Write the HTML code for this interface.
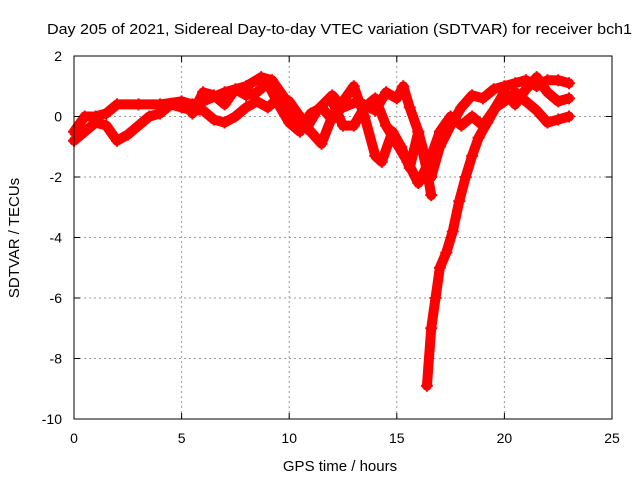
<!DOCTYPE html>
<html><head><meta charset="utf-8"><style>
body{margin:0;background:#fff}
svg{display:block;font-family:"Liberation Sans",sans-serif;font-size:14px}
</style></head><body>
<svg id="c" width="640" height="480">
<text x="47" y="34" textLength="585" lengthAdjust="spacingAndGlyphs" style="font-size:15px">Day 205 of 2021, Sidereal Day-to-day VTEC variation (SDTVAR) for receiver bch1</text>
<text x="340" y="471" text-anchor="middle" style="font-size:15px">GPS time / hours</text>
<text transform="translate(19,238) rotate(-90)" text-anchor="middle" style="font-size:15px">SDTVAR / TECUs</text>
<g id="grid"></g><g id="series"></g><g id="ticks"></g>
<rect x="74" y="56" width="538" height="363" fill="none" stroke="#000"/>
</svg>
<script>
const xTicks=[0,5,10,15,20,25];
const yTicks=[2,0,-2,-4,-6,-8,-10];
const track1=[[0,-0.5],[0.5,0],[1,0],[1.5,0.1],[2,0.4],[3,0.4],[4,0.4],[5,0.5],[5.5,0.4],[6,0.5],[7,0.8],[8,1.0],[8.7,1.3],[9.2,1.2],[9.8,0.6],[10.3,0.0],[10.8,-0.4],[11.3,0.2],[12,0.7],[12.5,0.3],[13.2,0.5],[14,0.2],[14.5,0.8],[15,0.6],[15.3,1.0],[15.6,0.3],[16,-0.5],[16.3,-1.3],[16.6,-2.0],[17,-1.0],[17.5,-0.3],[18,0.3],[18.5,0.7],[19,0.6],[19.5,0.9],[20,1.0],[20.5,1.1],[21,1.2],[21.5,1.0],[22,1.2],[22.5,1.2],[23,1.1]];
const track2=[[0,-0.8],[0.5,-0.5],[1,-0.2],[1.5,-0.3],[2,-0.8],[2.5,-0.6],[3,-0.3],[3.5,0.0],[4,0.1],[4.5,0.4],[5,0.3],[5.5,0.2],[6,0.2],[6.5,-0.1],[7,-0.2],[7.5,0.0],[8,0.3],[8.5,0.5],[9,0.3],[9.5,0.6],[10,0.5],[10.5,0.0],[11,-0.5],[11.5,-0.9],[12,0.0],[12.5,0.5],[13,1.0],[13.5,0.0],[14,-1.3],[14.3,-1.5],[14.8,-0.5],[15.2,-1.0],[15.6,-1.7],[16,-0.5],[16.4,-1.8],[16.6,-2.6]];
const track3=[[16.4,-8.9],[16.6,-7.0],[16.8,-6.0],[17.0,-5.0],[17.3,-4.5],[17.6,-3.8],[17.9,-2.8],[18.2,-2.0],[18.5,-1.3],[18.8,-0.7],[19.2,-0.2],[19.6,0.3],[20,0.5],[20.5,0.8],[21,0.5],[21.5,0.2],[22,-0.2],[22.5,-0.1],[23,0.0]];
const track4=[[12,0.5],[12.5,-0.3],[13,-0.3],[13.5,0.3],[14,0.6],[14.5,-0.3],[15,-0.9],[15.5,-1.5],[16,-2.2],[16.5,-1.5],[17,-0.5],[17.5,0.0],[18,-0.3],[18.5,0.0],[19,-0.3],[19.5,0.2],[20,0.8],[20.5,0.4],[21,0.9],[21.5,1.3],[22,0.8],[22.5,0.5],[23,0.6]];
const track5=[[5.5,0.1],[6,0.8],[6.5,0.7],[7,0.4],[7.5,0.9],[8,0.7],[8.5,0.8],[9,1.1],[9.5,0.4],[10,-0.2],[10.5,-0.5],[11,0.1],[11.5,0.3],[12,-0.1]];
const tracks=[track1,track2,track3,track4,track5];
const NS="http://www.w3.org/2000/svg";
const X=t=>74+t*538/25, Y=v=>56+(2-v)*363/12;
function mk(tag,at,p){const e=document.createElementNS(NS,tag);for(const k in at)e.setAttribute(k,at[k]);p.appendChild(e);return e;}
const g=document.getElementById('grid'),tk=document.getElementById('ticks'),s=document.getElementById('series');
xTicks.forEach(t=>{const x=X(t);
 if(t>0&&t<25){const l=mk('line',{x1:x,x2:x,y1:56,y2:419,stroke:'#999','stroke-dasharray':'2,3'},g);
 
 }
 mk('line',{x1:x,x2:x,y1:419,y2:413,stroke:'#000'},tk);mk('line',{x1:x,x2:x,y1:56,y2:62,stroke:'#000'},tk);
 const tx=mk('text',{x:x,y:443,'text-anchor':'middle'},tk);tx.textContent=t;
 
 });
yTicks.forEach(v=>{const y=Y(v);
 if(v<2&&v>-10){const l=mk('line',{x1:74,x2:612,y1:y,y2:y,stroke:'#999','stroke-dasharray':'2,3'},g);
 
 }
 mk('line',{x1:74,x2:80,y1:y,y2:y,stroke:'#000'},tk);mk('line',{x1:606,x2:612,y1:y,y2:y,stroke:'#000'},tk);
 const tx=mk('text',{x:62,y:y+5,'text-anchor':'end'},tk);tx.textContent=v;
 
 });
tracks.forEach((tr,i)=>{
 const p=mk('polyline',{points:tr.map(d=>X(d[0])+','+Y(d[1])).join(' '),fill:'none',stroke:'#f00','stroke-width':10,'stroke-linejoin':'round','stroke-linecap':'round'},s);
 
 
 tr.forEach(d=>{const x=X(d[0]),y=Y(d[1]);
  const m=mk('path',{d:`M${x-6},${y}h12M${x},${y-6}v12`,stroke:'#f00','stroke-width':2},s);
  
  });
});
</script>
</body></html>
